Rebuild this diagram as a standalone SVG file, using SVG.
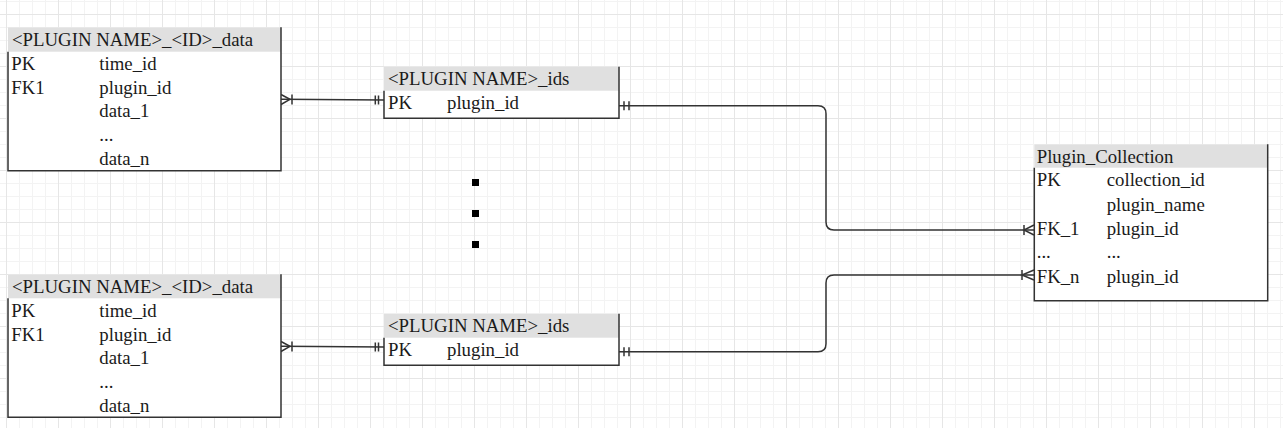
<svg xmlns="http://www.w3.org/2000/svg" width="1283" height="428" viewBox="0 0 1283 428">
<style>
.hdr{fill:#e0e0e0;stroke:none}
.body{fill:#ffffff;stroke:none}
.edge{fill:none;stroke:#333333;stroke-width:1.5}
.t{font-family:"Liberation Serif","Times New Roman",serif;font-size:18.8px;fill:#1a1a1a}
.c{fill:none;stroke:#333333;stroke-width:1.5}
</style>
<defs>
<pattern id="grid" x="6" y="14" width="52" height="52" patternUnits="userSpaceOnUse">
<path d="M13.5 0V52M26.5 0V52M39.5 0V52M0 13.5H52M0 26.5H52M0 39.5H52" stroke="#f3f3f3" stroke-width="1" fill="none"/>
<path d="M0.5 0V52M0 0.5H52" stroke="#e6e6e6" stroke-width="1" fill="none"/>
</pattern>
</defs>
<rect width="1283" height="428" fill="#ffffff"/>
<rect width="1283" height="428" fill="url(#grid)"/>

<g id="connectors">
<path class="c" d="M281 99.3L384 100"/>
<path class="c" d="M281 94.5L290 99.3L281 104.5M292 94.5V104.5"/>
<path class="c" d="M375.3 95.5V104.5M378.5 95.5V104.5"/>

<path class="c" d="M281 346.3L384 347"/>
<path class="c" d="M281 341.5L290 346.3L281 351.5M292 341.5V351.5"/>
<path class="c" d="M375.3 342.5V351.5M378.5 342.5V351.5"/>

<path class="c" d="M619 105.7H818Q826 105.7 826 113.7V222Q826 230 834 230H1034"/>
<path class="c" d="M624 101.2V110.2M629 101.2V110.2"/>
<path class="c" d="M1024 225V235M1034 225L1024 230L1034 235"/>

<path class="c" d="M619 351.7H818Q826 351.7 826 343.7V283Q826 275 834 275H1034"/>
<path class="c" d="M624 347.2V356.2M629 347.2V356.2"/>
<path class="c" d="M1022 270V280M1034 270L1022 275L1034 280"/>
</g>

<g id="data_table_1">
<rect class="body" x="8" y="27.3" width="273" height="143.4"/>
<rect class="hdr" x="8" y="27.3" width="273" height="24.4"/>
<path class="edge" d="M8 51.7V170.7H281V27.3"/>
<text class="t" x="12" y="46">&lt;PLUGIN NAME&gt;_&lt;ID&gt;_data</text>
<text class="t" x="11.3" y="69.5">PK</text><text class="t" x="99.3" y="69.5">time_id</text>
<text class="t" x="11.3" y="93.5">FK1</text><text class="t" x="99.3" y="93.5">plugin_id</text>
<text class="t" x="99.3" y="117.3">data_1</text>
<text class="t" x="99.3" y="140.7">...</text>
<text class="t" x="99.3" y="165.3">data_n</text>
</g>

<g id="data_table_2">
<rect class="body" x="8" y="274.3" width="273" height="143"/>
<rect class="hdr" x="8" y="274.3" width="273" height="24"/>
<path class="edge" d="M8 298.3V417.3H281V274.3"/>
<text class="t" x="12" y="292.7">&lt;PLUGIN NAME&gt;_&lt;ID&gt;_data</text>
<text class="t" x="11.3" y="316.5">PK</text><text class="t" x="99.3" y="316.5">time_id</text>
<text class="t" x="11.3" y="340.5">FK1</text><text class="t" x="99.3" y="340.5">plugin_id</text>
<text class="t" x="99.3" y="364.3">data_1</text>
<text class="t" x="99.3" y="387.7">...</text>
<text class="t" x="99.3" y="412.3">data_n</text>
</g>

<g id="ids_table_1">
<rect class="body" x="384" y="66.7" width="235" height="51.6"/>
<rect class="hdr" x="384" y="66.7" width="235" height="24"/>
<path class="edge" d="M384 90.7V118.3H619V66.7"/>
<text class="t" x="388" y="85.4">&lt;PLUGIN NAME&gt;_ids</text>
<text class="t" x="388" y="108.7">PK</text><text class="t" x="447" y="108.7">plugin_id</text>
</g>

<g id="ids_table_2">
<rect class="body" x="384" y="313.7" width="235" height="51.6"/>
<rect class="hdr" x="384" y="313.7" width="235" height="24"/>
<path class="edge" d="M384 337.7V365.3H619V313.7"/>
<text class="t" x="388" y="332.4">&lt;PLUGIN NAME&gt;_ids</text>
<text class="t" x="388" y="355.7">PK</text><text class="t" x="447" y="355.7">plugin_id</text>
</g>

<g id="plugin_collection">
<rect class="body" x="1034.3" y="144.3" width="233.4" height="156.4"/>
<rect class="hdr" x="1034.3" y="144.3" width="233.4" height="23.4"/>
<path class="edge" d="M1034.3 167.7V300.7H1267.7V144.3"/>
<text class="t" x="1036.7" y="162.7">Plugin_Collection</text>
<text class="t" x="1036.7" y="186">PK</text><text class="t" x="1106.7" y="186">collection_id</text>
<text class="t" x="1106.7" y="210.7">plugin_name</text>
<text class="t" x="1036.7" y="235">FK_1</text><text class="t" x="1106.7" y="235">plugin_id</text>
<text class="t" x="1036.7" y="258.3">...</text><text class="t" x="1106.7" y="258.3">...</text>
<text class="t" x="1036.7" y="282.7">FK_n</text><text class="t" x="1106.7" y="282.7">plugin_id</text>
</g>

<g id="ellipsis_dots" fill="#000000">
<rect x="472" y="179" width="7" height="7"/>
<rect x="472" y="210" width="7" height="7"/>
<rect x="472" y="241" width="7" height="7"/>
</g>
</svg>
